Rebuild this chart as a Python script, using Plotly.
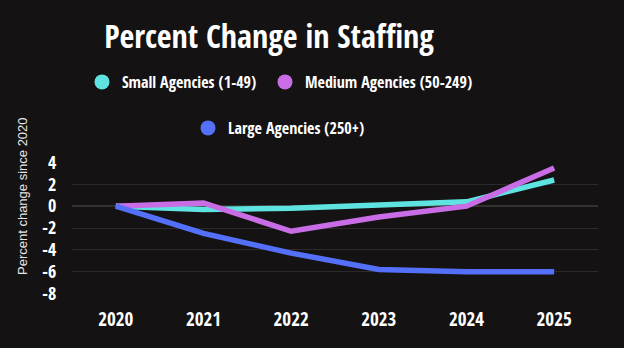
import plotly.graph_objects as go

# Staffing change by agency size, percent relative to 2020
years = ["2020", "2021", "2022", "2023", "2024", "2025"]
small_agencies = [0.0, -0.3, -0.2, 0.1, 0.4, 2.4]
medium_agencies = [0.0, 0.3, -2.3, -1.0, 0.0, 3.5]
large_agencies = [0.0, -2.5, -4.3, -5.8, -6.0, -6.0]

series_names = ["Small Agencies (1-49)", "Medium Agencies (50-249)", "Large Agencies (250+)"]
series_values = [small_agencies, medium_agencies, large_agencies]
series_colors = ["#5fe3e0", "#c96de6", "#5470f8"]
legend_ids = ["legend", "legend2", "legend3"]

y_ticks = [4, 2, 0, -2, -4, -6, -8]
y_tick_text = ["4", "2", "0", "-2", "-4", "-6", "-8"]

BG = "#141212"
FONT = "Open Sans Condensed, Roboto Condensed, sans-serif"

fig = go.Figure()

for name, vals, color in zip(series_names, series_values, series_colors):
    fig.add_trace(go.Scatter(
        x=years, y=vals, mode="lines", name=name,
        line=dict(color=color, width=5.5),
        showlegend=False, hoverinfo="x+y+name",
    ))

# legend entries shown as round markers
for name, color, lg in zip(series_names, series_colors, legend_ids):
    fig.add_trace(go.Scatter(
        x=[None], y=[None], mode="markers", name=name,
        marker=dict(color=color, size=15, symbol="circle"),
        legend=lg, showlegend=True,
    ))

W, H = 624, 348
L, R, T, B = 72, 26, 162, 54
pw = W - L - R
ph = H - T - B


def px_x(x):
    return (x - L) / pw


def px_y(y):
    return (H - B - y) / ph


def bold(size):
    return dict(family=FONT, size=size, color="#ffffff", weight=800)


legend_common = dict(
    orientation="h", bgcolor="rgba(0,0,0,0)", font=bold(16),
    xanchor="left", yanchor="middle", itemwidth=30,
)

fig.update_layout(
    width=W, height=H,
    margin=dict(l=L, r=R, t=T, b=B),
    paper_bgcolor=BG, plot_bgcolor=BG,
    title=dict(
        text="Percent Change in Staffing",
        font=bold(32),
        x=px_x(269), xref="paper", xanchor="center",
        y=1 - 37 / H, yref="container", yanchor="middle",
    ),
    legend=dict(x=px_x(82), y=px_y(82), **legend_common),
    legend2=dict(x=px_x(265), y=px_y(82), **legend_common),
    legend3=dict(x=px_x(188), y=px_y(128), **legend_common),
    xaxis=dict(
        type="category", range=[-0.5, 5.5],
        showgrid=False, zeroline=False, showline=False,
        tickfont=bold(19),
        ticks="outside", ticklen=8, tickcolor="rgba(0,0,0,0)",
        fixedrange=True,
    ),
    yaxis=dict(
        range=[-8.05, 4.05], tickvals=y_ticks, ticktext=y_tick_text,
        showgrid=True, gridcolor="#2c2a2a", gridwidth=1.2,
        zeroline=True, zerolinecolor="#333131", zerolinewidth=1.5,
        showline=False,
        tickfont=bold(18),
        ticks="outside", ticklen=11, tickcolor="rgba(0,0,0,0)",
        fixedrange=True,
    ),
    annotations=[dict(
        text="Percent change since 2020",
        xref="paper", yref="paper",
        x=px_x(22), y=px_y(196),
        xanchor="center", yanchor="middle",
        textangle=-90, showarrow=False,
        font=dict(family="Liberation Sans, Arial, sans-serif", size=13, color="#e6e6e6"),
    )],
    showlegend=True,
)

fig.write_html("out.html")
